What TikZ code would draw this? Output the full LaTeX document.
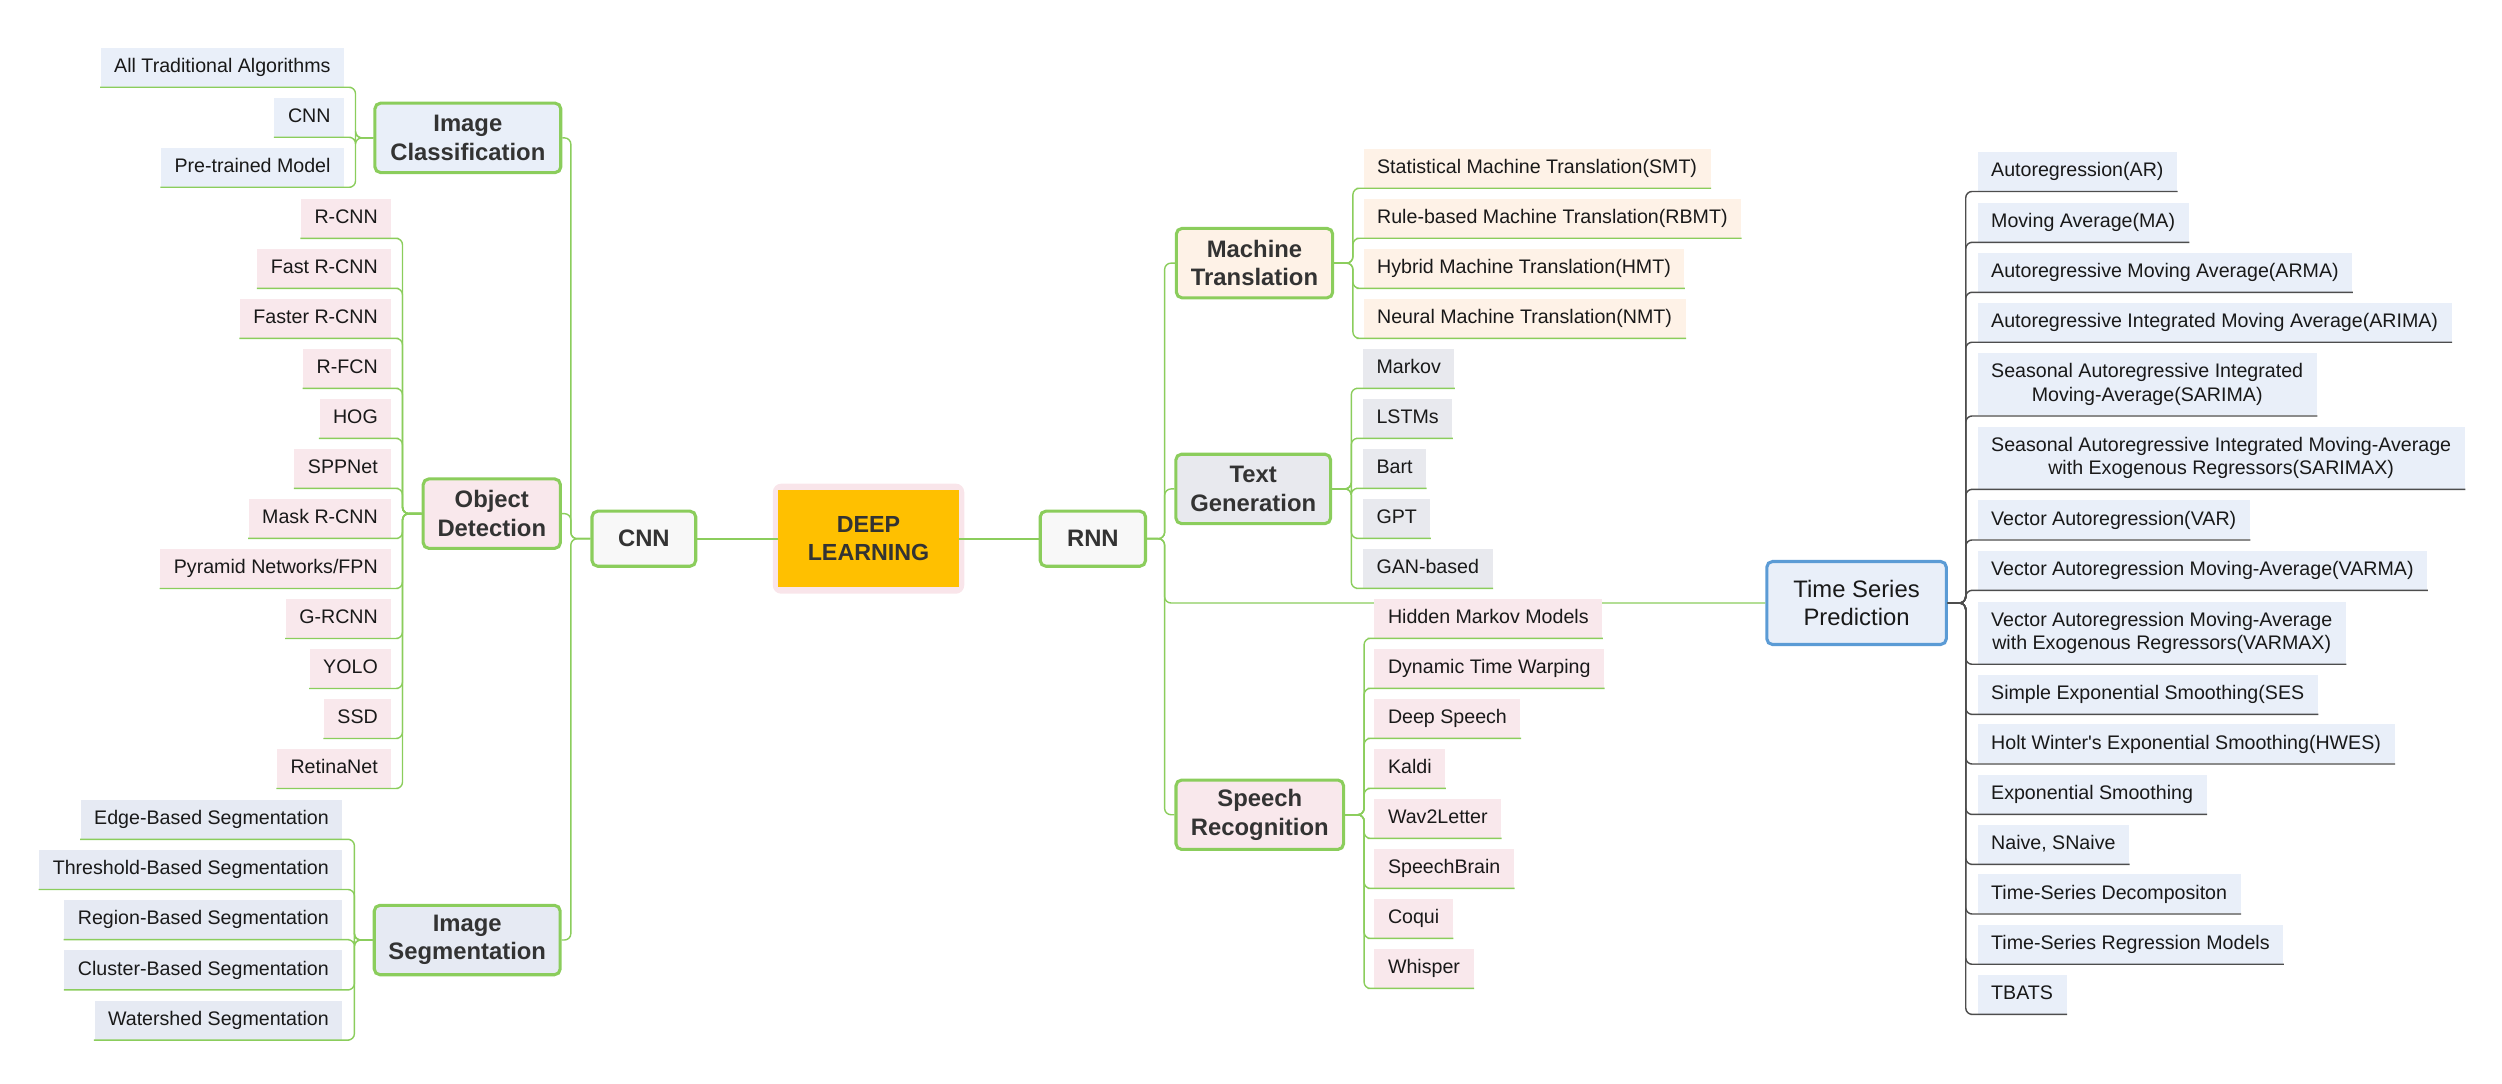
\documentclass[tikz,border=0pt]{standalone}
\usepackage{fontspec}
\setmainfont{Liberation Sans}
\definecolor{branch}{RGB}{139,205,92}
\definecolor{core}{RGB}{255,192,0}
\definecolor{halo}{RGB}{249,229,234}
\definecolor{ink}{RGB}{51,51,51}
\definecolor{rootfill}{RGB}{248,248,248}
\definecolor{bluefill}{RGB}{233,239,249}
\definecolor{pinkfill}{RGB}{249,232,236}
\definecolor{grayblue}{RGB}{230,234,243}
\definecolor{peach}{RGB}{254,242,231}
\definecolor{tgfill}{RGB}{232,233,238}
\definecolor{tsblue}{RGB}{91,155,213}
\definecolor{tsline}{RGB}{77,77,77}
\begin{document}
\begin{tikzpicture}[x=0.02cm,y=-0.02cm,
	leaf/.style={font=\fontsize{7}{8.3}\selectfont,text=black!90,inner xsep=0.17cm,inner ysep=3.6pt,text height=5.2pt,text depth=1.5pt},
	twoline/.style={align=center,text height={},text depth={},inner ysep=2pt,minimum height=0.78cm},
	topic/.style={draw=branch,line width=1.1pt,rounded corners=2pt,text=ink,align=center,font=\fontsize{8.5}{10.2}\selectfont\bfseries,inner sep=0pt,minimum height=0.87cm},
	root/.style={topic,fill=rootfill,minimum width=1.3cm,minimum height=0.69cm},
	link/.style={draw=branch,line width=0.5pt,rounded corners=0.08cm},
	trunk/.style={draw=branch,line width=0.8pt}]
	% Page
	\useasboundingbox (0,0) rectangle (1568,679.3);
	% Centre
	\node[fill=halo,rounded corners=3pt,minimum width=2.4cm,minimum height=1.38cm] (dlhalo) at (544.3,337.6) {};
	\node[fill=core,text=ink,align=center,font=\fontsize{8.3}{9.7}\selectfont\bfseries,minimum width=2.26cm,minimum height=1.22cm,inner sep=0pt] (dl) at (544.3,337.6) {DEEP\\LEARNING};
	\node[root] (cnn) at (403.5,337.6) {CNN};
	\node[root,minimum width=1.32cm] (rnn) at (684.9,337.6) {RNN};
	\draw[trunk] (cnn) -- (dl);
	\draw[trunk] (dl) -- (rnn);
	% CNN side
	\node[topic,fill=bluefill,minimum width=2.33cm] (ic) at (293.2,86.4) {Image\\Classification};
	\node[topic,fill=pinkfill,minimum width=1.72cm] (od) at (308.2,321.9) {Object\\Detection};
	\node[topic,fill=grayblue,minimum width=2.33cm] (is) at (292.8,589.1) {Image\\Segmentation};
	\foreach \n in {ic,od,is}
		\draw[link] (cnn.west) -- ++(-12.3,0) |- (\n.east);
	% Image Classification
	\foreach \t [count=\i] in {All Traditional Algorithms,CNN,Pre-trained Model}
		\node[leaf,fill=bluefill,anchor=south east] (ic\i) at (216,{23.36+31.34*\i}) {\t};
	\foreach \i in {1,...,3}
		\draw[link] (ic.west) -- ++(-11.2,0) |- (ic\i.south east) -- (ic\i.south west);
	% Object Detection
	\foreach \t [count=\i] in {R-CNN,Fast R-CNN,Faster R-CNN,R-FCN,HOG,SPPNet,Mask R-CNN,{Pyramid Networks/FPN},G-RCNN,YOLO,SSD,RetinaNet}
		\node[leaf,fill=pinkfill,anchor=south east] (od\i) at (245.6,{118.06+31.34*\i}) {\t};
	\foreach \i in {1,...,12}
		\draw[link] (od.west) -- ++(-12,0) |- (od\i.south east) -- (od\i.south west);
	% Image Segmentation
	\foreach \t [count=\i] in {Edge-Based Segmentation,Threshold-Based Segmentation,Region-Based Segmentation,Cluster-Based Segmentation,Watershed Segmentation}
		\node[leaf,fill=grayblue,anchor=south east] (is\i) at (214.9,{494.55+31.45*\i}) {\t};
	\foreach \i in {1,...,5}
		\draw[link] (is.west) -- ++(-11.5,0) |- (is\i.south east) -- (is\i.south west);
	% RNN side
	\node[topic,fill=peach,minimum width=1.96cm] (mt) at (786.2,164.9) {Machine\\Translation};
	\node[topic,fill=tgfill,minimum width=1.94cm] (tg) at (785.4,306.4) {Text\\Generation};
	\node[topic,fill=pinkfill,minimum width=2.1cm] (sr) at (789.5,510.6) {Speech\\Recognition};
	\node[draw=tsblue,line width=1.1pt,rounded corners=2pt,fill=bluefill,text=black!90,align=center,font=\fontsize{8.5}{10.1}\selectfont,minimum width=2.25cm,minimum height=1.04cm,inner sep=0pt] (ts) at (1163.5,377.9) {Time Series\\Prediction};
	\foreach \n in {mt,tg,sr,ts}
		\draw[link] (rnn.east) -- ++(11,0) |- (\n.west);
	% Machine Translation
	\foreach \t [count=\i] in {Statistical Machine Translation(SMT),Rule-based Machine Translation(RBMT),Hybrid Machine Translation(HMT),Neural Machine Translation(NMT)}
		\node[leaf,fill=peach,anchor=south west] (mt\i) at (854.2,{86.66+31.34*\i}) {\t};
	\foreach \i in {1,...,4}
		\draw[link] (mt.east) -- ++(11.7,0) |- (mt\i.south west) -- (mt\i.south east);
	% Text Generation
	\foreach \t [count=\i] in {Markov,LSTMs,Bart,GPT,GAN-based}
		\node[leaf,fill=tgfill,anchor=south west] (tg\i) at (853.8,{86.66+31.34*(\i+4)}) {\t};
	\foreach \i in {1,...,5}
		\draw[link] (tg.east) -- ++(12,0) |- (tg\i.south west) -- (tg\i.south east);
	% Speech Recognition
	\foreach \t [count=\i] in {Hidden Markov Models,Dynamic Time Warping,Deep Speech,Kaldi,Wav2Letter,SpeechBrain,Coqui,Whisper}
		\node[leaf,fill=pinkfill,anchor=south west] (sr\i) at (861,{86.66+31.34*(\i+9)}) {\t};
	\foreach \i in {1,...,8}
		\draw[link] (sr.east) -- ++(11.9,0) |- (sr\i.south west) -- (sr\i.south east);
	% Time Series Prediction
	\foreach \i/\y/\t in {1/120/Autoregression(AR),2/151.9/Moving Average(MA),3/183.2/Autoregressive Moving Average(ARMA),4/214.5/Autoregressive Integrated Moving Average(ARIMA),7/338.4/Vector Autoregression(VAR),8/370/Vector Autoregression Moving-Average(VARMA),10/447.7/Simple Exponential Smoothing(SES,11/478.8/Holt Winter\textquotesingle s Exponential Smoothing(HWES),12/510.4/Exponential Smoothing,13/541.7/{Naive, SNaive},14/572.8/Time-Series Decompositon,15/604.3/Time-Series Regression Models,16/635.7/TBATS}
		\node[leaf,fill=bluefill,anchor=south west] (ts\i) at (1239,\y) {\t};
	\foreach \i/\y/\t in {5/260.7/{Seasonal Autoregressive Integrated\\Moving-Average(SARIMA)},6/306.7/{Seasonal Autoregressive Integrated Moving-Average\\with Exogenous Regressors(SARIMAX)},9/416.3/{Vector Autoregression Moving-Average\\with Exogenous Regressors(VARMAX)}}
		\node[leaf,twoline,fill=bluefill,anchor=south west] (ts\i) at (1239,\y) {\t};
	\foreach \i in {1,...,16}
		\draw[link,draw=tsline] (ts.east) -- ++(11.2,0) |- (ts\i.south west) -- (ts\i.south east);
\end{tikzpicture}
\end{document}
